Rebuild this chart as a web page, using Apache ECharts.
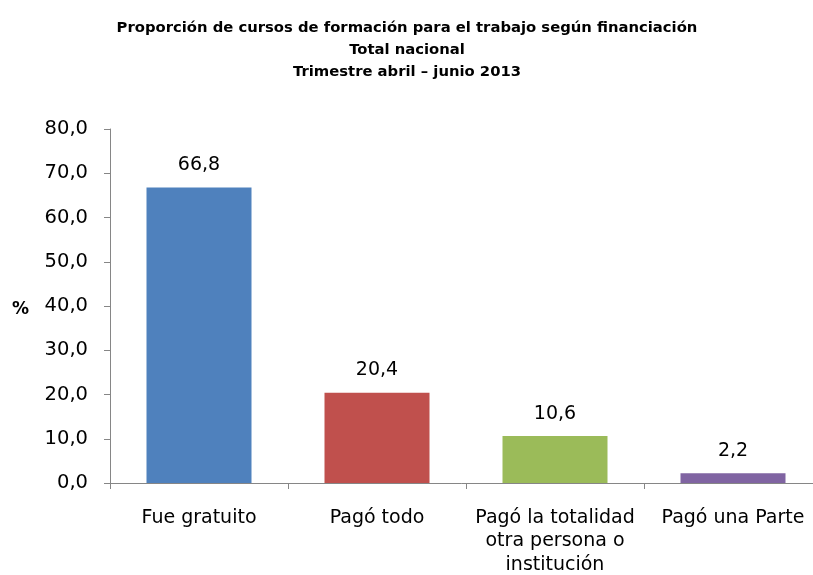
<!DOCTYPE html>
<html>
<head>
<meta charset="utf-8">
<script src="https://cdn.jsdelivr.net/npm/echarts@6/dist/echarts.min.js"></script>
<style>
  html, body { margin: 0; padding: 0; background: #fff; }
  #chart { width: 813px; height: 575px; }
</style>
</head>
<body>
<div id="chart"></div>
<script>
var categories = [
  "Fue gratuito",
  "Pagó todo",
  "Pagó la totalidad\notra persona o\ninstitución",
  "Pagó una Parte"
];
var values = [66.8, 20.4, 10.6, 2.2];
var barColors = ["#4F81BD", "#C0504D", "#9BBB59", "#8064A2"];
var titleLines = [
  "Proporción de cursos de formación para el trabajo según financiación",
  "Total nacional",
  "Trimestre abril – junio 2013"
];

function fmt(v) {
  return v.toFixed(1).replace(".", ",");
}

var myChart = echarts.init(document.getElementById("chart"));

var option = {
  animation: false,
  title: {
    text: titleLines.join("\n"),
    left: 402,
    textAlign: "center",
    top: 12,
    textStyle: {
      fontFamily: "DejaVu Sans",
      fontWeight: "bold",
      fontSize: 14.8,
      lineHeight: 22,
      color: "#000"
    }
  },
  grid: {
    left: 110,
    width: 712,
    top: 129,
    height: 354,
    outerBoundsMode: "none"
  },
  xAxis: {
    type: "category",
    data: categories,
    axisLine: { lineStyle: { color: "#868686", width: 1 } },
    axisTick: { show: true, interval: 0, length: 6, lineStyle: { color: "#868686" } },
    axisLabel: {
      interval: 0,
      margin: 23,
      fontFamily: "DejaVu Sans",
      fontSize: 19,
      lineHeight: 23.5,
      color: "#000"
    }
  },
  yAxis: {
    type: "value",
    min: 0,
    max: 80,
    interval: 10,
    name: "%",
    nameLocation: "middle",
    nameRotate: 0,
    nameGap: 81,
    nameTextStyle: {
      fontFamily: "DejaVu Sans",
      fontWeight: "bold",
      fontSize: 17,
      color: "#000",
      verticalAlign: "top",
      lineHeight: 8
    },
    splitLine: { show: false },
    axisLine: { show: true, lineStyle: { color: "#868686", width: 1 } },
    axisTick: { show: true, length: 6, lineStyle: { color: "#868686" } },
    axisLabel: {
      margin: 22,
      fontFamily: "DejaVu Sans",
      fontSize: 19.5,
      color: "#000",
      formatter: function (v) { return fmt(v); }
    }
  },
  series: [
    {
      type: "bar",
      barWidth: 105,
      data: values.map(function (v, i) {
        return { value: v, itemStyle: { color: barColors[i] } };
      }),
      label: {
        show: true,
        position: "top",
        distance: 13,
        fontFamily: "DejaVu Sans",
        fontSize: 19,
        color: "#000",
        formatter: function (p) { return fmt(p.value); }
      }
    }
  ]
};

myChart.setOption(option);
window.addEventListener("resize", function () {
  myChart.resize();
});
</script>
</body>
</html>
